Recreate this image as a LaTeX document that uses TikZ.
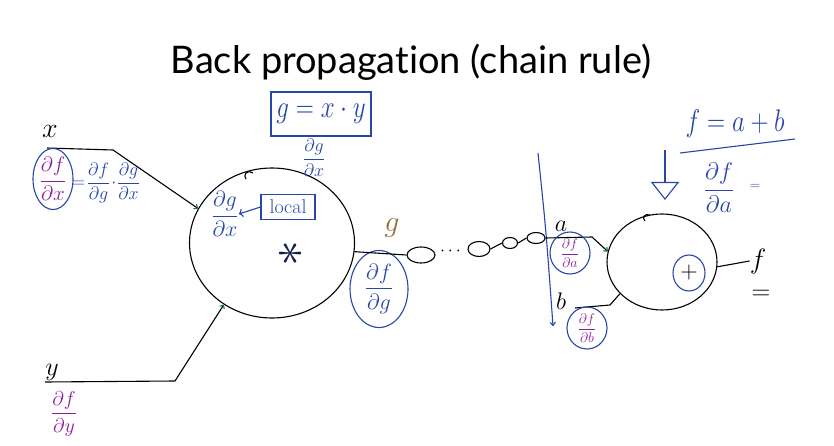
\RequirePackage{fix-cm}
\documentclass[tikz,border=0pt]{standalone}
\usepackage{amsmath}
\usepackage{fontspec}
\newfontfamily\titlefont[Ligatures=NoCommon]{Lato}
\usetikzlibrary{arrows.meta,shapes.geometric}
\definecolor{penblue}{RGB}{40,70,170}
\definecolor{penpurple}{RGB}{140,30,160}
\definecolor{pengreen}{RGB}{30,120,50}
\definecolor{penbrown}{RGB}{150,110,60}
\newcommand\hsz[1]{\fontsize{#1}{#1}\selectfont}
\tikzset{
  pen/.style={line width=1.1pt, black},
  bluepen/.style={line width=1.1pt, penblue},
  tipg/.style={-{To[color=pengreen,length=4pt,width=6pt]}},
  gate/.style={draw, ellipse, line width=1.1pt, inner sep=0pt},
  ring/.style={draw=penblue, ellipse, line width=1.1pt, inner sep=0pt},
  chainloop/.style={draw, ellipse, line width=1.1pt, inner sep=0pt},
  hand/.style={inner sep=0pt, font=\hsz{18}},
  bluetxt/.style={inner sep=0pt, text=penblue},
  purptxt/.style={inner sep=0pt, text=penpurple}
}
\begin{document}
\begin{tikzpicture}[x=1pt,y=-1pt]
\useasboundingbox (0,0) rectangle (834,446);
\fill[white] (0,0) rectangle (834,446);

\node[font=\titlefont\hsz{38}] (title) at (411,62) {Back propagation (chain rule)};

% gates
\node[gate, minimum width=165pt, minimum height=150pt] (mul) at (272,243) {};
\node[gate, minimum width=110pt, minimum height=96pt] (add) at (662,262) {};
\draw[pen] (253,173) .. controls (246,169) and (243,176) .. (246,179);
\draw[pen] (650,215) .. controls (644,213) and (642,218) .. (645,221);

% inputs
\coordinate (xs) at (47,148);
\coordinate (xb) at (113,150);
\draw[pen, tipg] (xs) -- (xb) -- (mul.155);
\coordinate (ys) at (45,382);
\coordinate (yb) at (175,381);
\draw[pen, tipg] (ys) -- (yb) -- (mul.232);
\node[hand, font=\hsz{28}] (xl) at (50,131) {$x$};
\node[hand, font=\hsz{26}] (yl) at (52,372) {$y$};
\node[purptxt, font=\hsz{20}] (dfdy) at (64,414) {$\dfrac{\partial f}{\partial y}$};

% left chain rule
\node[ring, minimum width=40pt, minimum height=60pt, text=penpurple, font=\hsz{21}] (dfdx) at (53,179) {$\dfrac{\partial f}{\partial x}$};
\node[bluetxt, font=\hsz{18}] (chain) at (106,183) {$=\!\dfrac{\partial f}{\partial g}\!\cdot\!\dfrac{\partial g}{\partial x}$};

% g definition
\node[draw=penblue, line width=1.1pt, minimum width=100pt, minimum height=44pt, text=penblue, font=\hsz{25}] (gdef) at (321,114) {\scalebox{1}[1.25]{$g=x\cdot y$}};
\node[bluetxt, font=\hsz{18}] (dgdx0) at (314,158) {$\dfrac{\partial g}{\partial x}$};

% inside mul gate
\node[bluetxt, font=\hsz{22}] (dgdx1) at (225,214) {$\dfrac{\partial g}{\partial x}$};
\node[draw=penblue, line width=1.1pt, text=penblue, font=\hsz{20}, minimum width=54pt, minimum height=25pt, inner sep=1pt] (local) at (288,207) {local};
\draw[bluepen, ->] (local.west) -- (dgdx1.east);
\node[inner sep=0pt, text=penblue!45!black, font=\hsz{20}] (op1) at (291,253) {\rotatebox{90}{\scalebox{2.6}{$\ast$}}};

% output g
\node[inner sep=0pt, text=penbrown, font=\hsz{30}] (gl) at (392,228) {$g$};
\node[ring, minimum width=58pt, minimum height=77pt, text=penblue, font=\hsz{22}] (dfdg) at (379,289) {$\dfrac{\partial f}{\partial g}$};

% chain of nodes
\node[chainloop, minimum width=28pt, minimum height=16pt] (l1) at (421,255) {};
\node[inner sep=0pt, font=\hsz{18}] (dots) at (452,251) {$\cdots$};
\node[chainloop, minimum width=22pt, minimum height=15pt] (l2) at (479,249) {};
\node[chainloop, minimum width=15pt, minimum height=11pt] (l3) at (510,243) {};
\node[chainloop, minimum width=18pt, minimum height=11pt] (l4) at (536,238) {};
\draw[pen] (mul.-6) -- (l1.west);
\draw[pen] (l2.east) -- (l3.west);
\draw[pen] (l3.east) -- (l4.west);

% backward blue line
\coordinate (vt) at (538,153);
\coordinate (vb) at (553,326);
\draw[bluepen, -{To[length=4pt,width=6pt]}] (vt) .. controls (546,230) .. (vb);

% inputs to add gate
\coordinate (ab) at (592,237);
\draw[pen, tipg] (l4.east) -- (ab) -- (add.169);
\coordinate (bs) at (575,308);
\coordinate (bb) at (610,305);
\draw[pen] (bs) -- (bb) -- (add.217);
\node[hand, font=\hsz{24}] (al) at (561,226) {$a$};
\node[hand, font=\hsz{24}] (bl) at (561,301) {$b$};
\node[ring, minimum width=40pt, minimum height=42pt, text=penpurple, font=\hsz{14}] (dfda) at (570,253) {$\dfrac{\partial f}{\partial a}$};
\node[ring, minimum width=40pt, minimum height=42pt, text=penpurple, font=\hsz{14}] (dfdb) at (587,328) {$\dfrac{\partial f}{\partial b}$};

% add gate
\node[ring, minimum width=32pt, minimum height=36pt, text=black, font=\hsz{24}] (plus) at (689,273) {$+$};
\node[hand, font=\hsz{28}] (fl) at (758,261) {$f$};
\draw[pen] (add.-5) -- (fl.west);
\node[hand, font=\hsz{26}] (feq) at (761,295) {$=$};

% f definition
\node[bluetxt, font=\hsz{25}] (fdef) at (735,124) {\scalebox{1}[1.25]{$f=a+b$}};
\coordinate (ul) at (680,153);
\coordinate (ur) at (795,139);
\draw[bluepen] (ul) -- (ur);
\coordinate (dt) at (665,150);
\coordinate (db) at (665,200);
\draw[bluepen, -{Triangle[open,length=18pt,width=28pt]}] (dt) -- (db);
\node[bluetxt, font=\hsz{24}] (dfda2) at (719,188) {$\dfrac{\partial f}{\partial a}$};
\node[bluetxt, font=\hsz{14}] (eq2) at (755,187) {$=$};
\end{tikzpicture}
\end{document}
